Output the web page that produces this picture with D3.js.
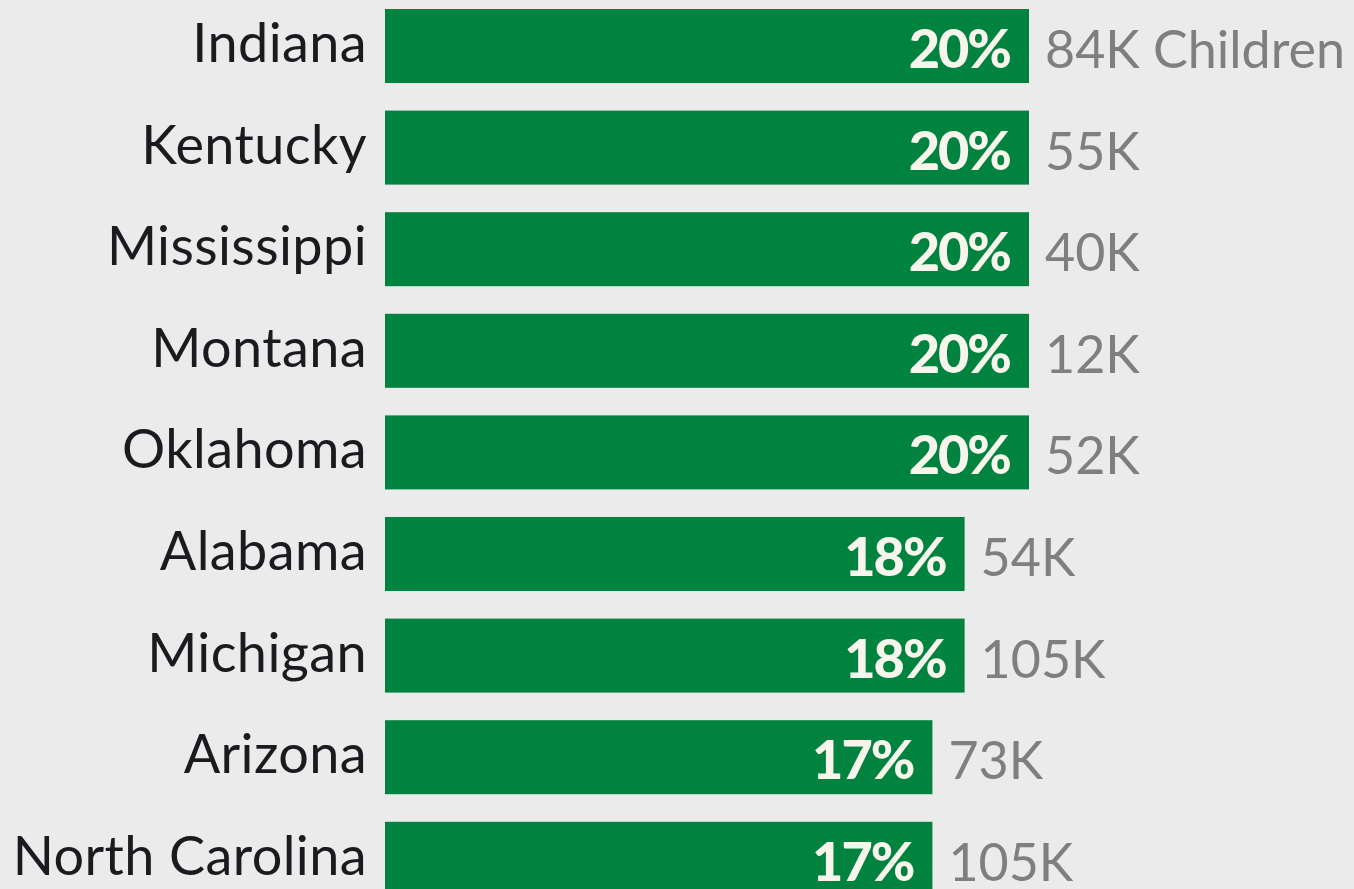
<!DOCTYPE html>
<html>
<head>
<meta charset="utf-8">
<script src="https://cdn.jsdelivr.net/npm/d3@7"></script>
<style>
  html, body { margin: 0; padding: 0; background: #ebebeb; overflow: hidden; }
  svg { display: block; }
</style>
</head>
<body>
<svg id="chart" width="1354" height="889"></svg>
<script>
const states = ["Indiana", "Kentucky", "Mississippi", "Montana", "Oklahoma", "Alabama", "Michigan", "Arizona", "North Carolina"];
const percents = [20, 20, 20, 20, 20, 18, 18, 17, 17];
const childrenK = [84, 55, 40, 12, 52, 54, 105, 73, 105];

const data = states.map((s, i) => ({ state: s, pct: percents[i], kids: childrenK[i] }));

const svg = d3.select("#chart");
svg.append("rect").attr("width", 1354).attr("height", 889).attr("fill", "#ebebeb");

const x = d3.scaleLinear().domain([0, 20]).range([385, 1029]);
const y = d3.scaleBand().domain(states).range([9, 895.8]).paddingInner(0.2717).paddingOuter(0);

const font = "Lato, 'Open Sans', sans-serif";

const g = svg.append("g");

g.selectAll("rect.bar").data(data).join("rect")
  .attr("class", "bar")
  .attr("x", x(0))
  .attr("y", d => y(d.state))
  .attr("width", d => x(d.pct) - x(0))
  .attr("height", y.bandwidth())
  .attr("fill", "#00833f");

g.selectAll("text.state").data(data).join("text")
  .attr("class", "state")
  .attr("x", x(0) - 18)
  .attr("y", d => y(d.state) + y.bandwidth() / 2 + 16)
  .attr("text-anchor", "end")
  .attr("font-family", font)
  .attr("font-size", 54)
  .attr("letter-spacing", 0.4)
  .attr("fill", "#1c1a1f")
  .text(d => d.state);

g.selectAll("text.pct").data(data).join("text")
  .attr("class", "pct")
  .attr("x", d => x(d.pct) - 19)
  .attr("y", d => y(d.state) + y.bandwidth() / 2 + 22)
  .attr("text-anchor", "end")
  .attr("font-family", font)
  .attr("font-weight", 900)
  .attr("font-size", 54)
  .attr("letter-spacing", -2)
  .attr("fill", "#f7f5ec")
  .text(d => d.pct + "%");

g.selectAll("text.val").data(data).join("text")
  .attr("class", "val")
  .attr("x", d => x(d.pct) + 16)
  .attr("y", d => y(d.state) + y.bandwidth() / 2 + 22)
  .attr("text-anchor", "start")
  .attr("font-family", font)
  .attr("font-size", 52)
  .attr("fill", "#7f7f80")
  .text((d, i) => d.kids + "K" + (i === 0 ? " Children" : ""));
</script>
</body>
</html>
